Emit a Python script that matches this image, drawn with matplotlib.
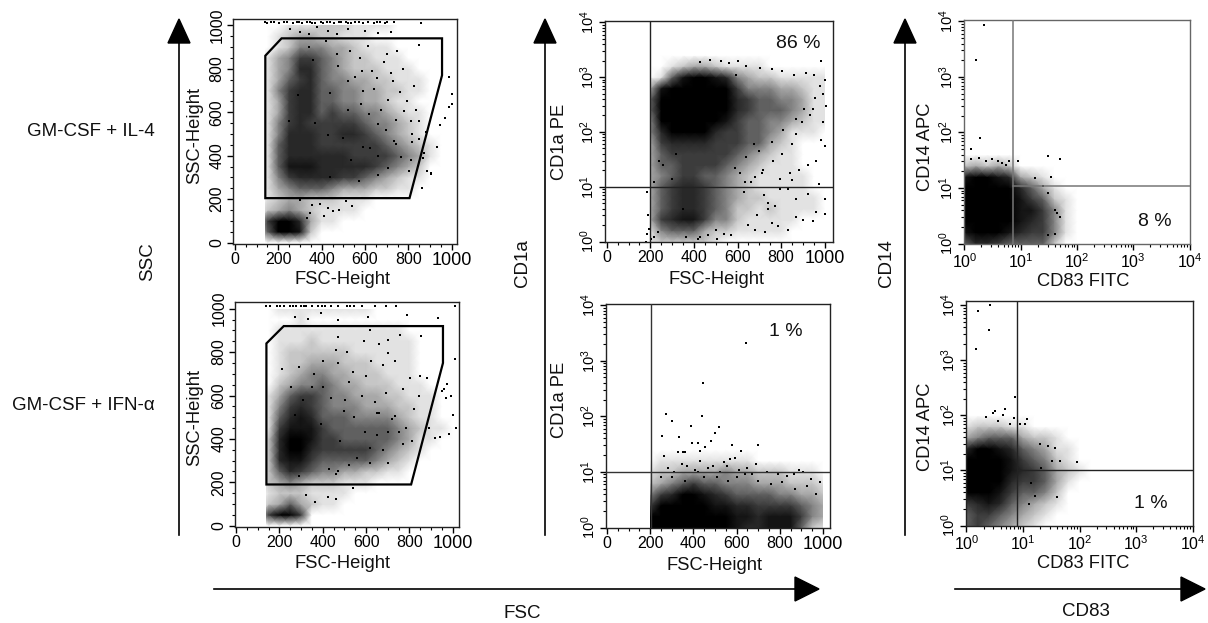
import numpy as np
import matplotlib
matplotlib.use("Agg")
import matplotlib.pyplot as plt
from matplotlib.colors import LinearSegmentedColormap
from matplotlib.patches import Polygon, Rectangle

plt.rcParams['font.family'] = ['Liberation Sans', 'DejaVu Sans']
plt.rcParams['mathtext.fontset'] = 'custom'
plt.rcParams['mathtext.rm'] = 'Liberation Sans'

W, H = 1208, 623

# density read by eye, 0 (empty) to 9 (solid black), rows listed from the bottom up
fsc_nodes = [0, 50, 100, 150, 200, 250, 300, 350, 400, 450, 500, 550, 600, 650, 700, 750, 800, 850, 900, 950, 1000]
lin_nodes = fsc_nodes
log_nodes = [0, .2, .4, .6, .8, 1, 1.2, 1.4, 1.6, 1.8, 2, 2.2, 2.4, 2.6, 2.8, 3, 3.2, 3.4, 3.6, 3.8, 4]

il4_scatter = ["0", "000599820", "000699731100", "000234321111", "000123322211100",
               "000134555433322110", "000146777766543211", "000158887777765432",
               "000157777776666543100", "000157776666665432100", "000147776677654321",
               "000146766666544321", "000136775655443211", "000136775544332110",
               "000146775544332211", "000135675443322111", "000134775432221110",
               "000134665432211100", "000012444332111", "000012332211100", "000001112221111000"]
ifn_scatter = ["0", "000699600", "000235321100", "000122211110", "000234322211100",
               "000257654433221100", "000278865555543210", "000279976666654321",
               "000279986655555431100", "000168886555555432110", "000157875554444321100",
               "000146765444333221100", "000135665443332211100", "000023445433222111",
               "000012344332221110", "000012233322211110", "000012222221111110",
               "000011121111111110", "000011111111111100", "0000001", "0000111111111"]
il4_cd1a = ["000012222210", "000014555322111110", "000036788644211111",
            "000035677654221211110", "000035677654322111110", "000035677654321111100",
            "000034566554321111100", "000035566665432111", "000035666666543211",
            "000036777766655321", "000047999976655431110", "000049999998655443211",
            "000059999999765554311", "000059999999765544311", "000038999999644433211",
            "000001589987432211111", "000000123321111"]
ifn_cd1a = ["000799999999877888521", "000699999999887888643", "000269999988776666543",
            "000146799876555544332", "000023456554443332221", "000012233334332221110",
            "000001111111110"]
il4_cd83 = ["577655552", "899987664100", "999998764100", "999998864100", "999998652100",
            "999997531", "899873210", "23232"]
ifn_cd83 = ["565432100", "566543210", "678754321", "999865542", "999976653100",
            "999987653210", "999986542100", "799875431100", "345553221", "12221100"]

# single events that stand apart from the clouds
il4_x = [140, 150, 165, 180, 205, 225, 240, 270, 285, 295, 310, 330, 345, 355, 370, 395, 405, 425, 440, 455, 480, 490,
         510, 520, 535, 555, 570, 590, 615, 640, 655, 670, 690, 700, 735, 860,
         255, 300, 340, 380, 430, 470, 520, 600, 660, 720, 850, 985, 1000, 1003, 985, 968, 947, 930, 905, 885, 862, 872,
         745, 688, 632, 762, 795, 834, 703, 812, 612, 575, 718, 655, 828, 778, 742, 585, 530, 672, 850, 818, 742, 695, 868, 905,
         640, 705, 592, 552, 777, 728, 815, 660, 625, 765, 705, 810, 850, 880, 660, 572, 732, 802,
         470, 520, 475, 420, 580, 620, 520, 370, 500, 430, 360, 440, 590, 290, 340, 250, 440, 535, 660,
         355, 430, 482, 510, 585, 300, 345, 390, 450, 540, 330, 410]
il4_y = [1015, 1012, 1015, 1015, 1012, 1015, 1015, 1012, 1015, 1015, 1012, 1015, 1015, 1012, 1012, 1015, 1012, 1015, 1015, 1012, 1015, 1015,
         1015, 1012, 1012, 1015, 1015, 1012, 1015, 1012, 1015, 1015, 1012, 1015, 1015, 1012,
         985, 970, 960, 990, 975, 960, 985, 975, 965, 970, 910, 760, 682, 640, 622, 572, 540, 440, 322, 332, 250, 412,
         882, 832, 790, 692, 652, 612, 870, 560, 905, 848, 782, 758, 722, 608, 566, 790, 880, 610, 475, 500, 455, 520, 390, 315,
         705, 655, 700, 760, 800, 742, 462, 545, 435, 395, 345, 380, 560, 510, 310, 285, 470, 330,
         870, 745, 815, 930, 640, 590, 610, 550, 480, 495, 840, 690, 440, 680, 900, 560, 300, 380, 400,
         172, 160, 152, 192, 205, 195, 135, 180, 145, 170, 115, 125]
ifn_x = [140, 155, 190, 205, 220, 250, 262, 275, 300, 312, 325, 350, 380, 395, 410, 440, 470, 510, 525, 545, 580, 640, 690, 740, 1010,
         270, 330, 390, 470, 610, 790, 930, 852, 758, 702, 662, 592, 512, 462, 402, 622, 680, 850, 882,
         975, 990, 1010, 960, 950, 970, 1000, 1015, 985, 942, 917, 890, 422, 462, 542, 362, 322, 210, 290, 255, 620, 470, 700,
         540, 600, 735, 770, 805, 690, 640, 820, 735, 650, 580, 505, 400, 470, 520, 845, 880, 785, 720, 595, 545, 770, 700, 660, 700,
         360, 440, 500, 310, 270, 350, 480, 390, 560, 620, 680, 520, 650, 290, 430, 460, 750, 810, 620, 470]
ifn_y = [1012, 1014, 1012, 1014, 1012, 1012, 1014, 1012, 1012, 1014, 1012, 1012, 1012, 1014, 1012, 1012, 1012, 1012, 1014, 1012, 1012, 1012, 1012, 1012, 1012,
         960, 952, 980, 948, 962, 970, 958, 872, 880, 858, 838, 850, 800, 812, 760, 758, 742, 692, 680,
         652, 600, 770, 630, 620, 590, 512, 452, 422, 408, 402, 448, 130, 122, 172, 110, 142, 720, 730, 640, 900, 870, 795,
         710, 690, 760, 630, 680, 610, 570, 540, 505, 520, 600, 580, 640, 750, 660, 600, 470, 450, 490, 430, 500, 375, 430, 520, 290,
         700, 590, 530, 580, 510, 640, 390, 470, 310, 360, 350, 280, 420, 230, 260, 240, 430, 390, 290, 250]
il4_cd1a_x = [180, 185, 195, 190, 185, 240, 215, 600, 638, 702, 757, 805, 860, 912, 950, 985, 1000, 978, 993, 1005, 945, 932, 898,
              868, 852, 803, 765, 718, 682, 636, 592, 560, 523, 472, 428, 985, 958, 922, 882, 843, 797, 742, 690, 1000, 962, 902,
              205, 215, 235, 260, 320, 365, 420, 465, 505, 540, 680, 650, 760, 725, 785, 830, 870, 945, 1000, 630, 610, 700, 760, 810,
              870, 905, 955, 990, 720, 660, 740, 795, 850, 925, 975, 1000, 300, 350, 430, 500, 570, 590, 640, 675, 710, 830, 870, 770]
il4_cd1a_y = [1, 1.4, 1.7, 3, 8, 30, 12, 2000, 1600, 1500, 1400, 1300, 1100, 1200, 1100, 2000, 900, 700, 500, 300, 260, 200, 150,
              90, 60, 40, 30, 20, 15, 12, 1100, 1800, 2000, 2100, 1900, 70, 30, 25, 20, 18, 14, 4, 3, 6, 3.5, 2.5,
              1.1, 1.2, 1.5, 25, 40, 1.2, 1.1, 1.3, 1.1, 1.4, 1.6, 2.0, 2.2, 1.5, 1.9, 1.6, 2.8, 2.4, 3.2, 8, 18, 45, 65, 110,
              170, 260, 420, 150, 7, 12, 5, 9, 13, 7.5, 11, 55, 14, 4, 1.2, 1.6, 1.3, 22, 35, 60, 18, 9, 6, 4.5]
ifn_cd1a_x = [645, 445, 275, 440, 300, 255, 390, 520, 500, 335, 480, 395, 420, 455, 700, 580, 265, 620, 570, 430, 330, 350, 360, 590, 540, 690, 890,
              280, 310, 345, 372, 405, 430, 465, 492, 522, 555, 612, 648, 672, 742, 792, 832, 865, 905, 945, 985, 250, 300, 360, 420, 450,
              510, 560, 600, 640, 700, 760, 810, 870, 925, 965]
ifn_cd1a_y = [2100, 390, 110, 100, 82, 45, 66, 65, 50, 42, 36, 33, 33, 28, 30, 30, 19, 24, 17, 24, 23, 23, 23, 18, 15, 14, 11,
              12, 10, 14, 13, 11, 16, 12, 13, 10, 13, 11, 12, 9, 10, 9, 8.5, 9, 10, 7.5, 6.5, 8, 8, 7, 10, 8,
              8, 7, 8, 9, 7, 6, 6.5, 5, 5.5, 4]
il4_cd83_x = [2.2, 1.6, 1.85, 1.3, 31, 50, 35, 9, 18, 25, 31, 40, 45, 50, 30, 40, 1.3, 1.8, 2.4, 3.1, 3.9, 4.6, 5.5, 6.2]
il4_cd83_y = [8500, 2000, 80, 50, 37, 33, 16, 30, 15, 11, 8, 4, 3.5, 3, 1.4, 1.5, 33, 34, 30, 33, 31, 28, 26, 30]
ifn_cd83_x = [2.6, 1.6, 2.5, 1.5, 7.3, 4.8, 3.2, 12, 9, 20, 37, 28, 45, 90, 40, 33, 21, 14, 16, 13, 11, 2.2, 3, 3.6, 4.5, 6, 7]
ifn_cd83_y = [10000, 8000, 3500, 1600, 220, 130, 120, 85, 70, 30, 26, 28, 15, 14, 3.3, 15, 11, 6, 3.5, 2.5, 70, 95, 110, 80, 100, 70, 90]

greys = LinearSegmentedColormap.from_list("stip", ["#ffffff", "#a8a8a8", "#3c3c3c", "#000000"])


def grid(rows):
    out = np.zeros((21, 21))
    for i, r in enumerate(rows):
        out[i] = [int(c) for c in r.ljust(21, "0")]
    return out


def px_axes(left, right, top, bottom):
    return fig.add_axes([left / W, 1 - bottom / H, (right - left) / W, (bottom - top) / H])


def px_text(x, y, s, **kw):
    kw.setdefault("ha", "center")
    kw.setdefault("va", "center")
    fig.text(x / W, 1 - y / H, s, color="#111111", **kw)


def style(ax, lw=1.0):
    for side, sp in ax.spines.items():
        sp.set_linewidth(lw)
        sp.set_color("#222222")
    ax.tick_params(which="major", length=4, width=1, pad=2, top=False, right=False)
    ax.tick_params(which="minor", length=2, width=0.8, top=False, right=False)
    for t in ax.get_yticklabels():
        t.set_rotation(90)
        t.set_va("center")


def linear_ticks(ax, which="both"):
    ticks = [0, 200, 400, 600, 800, 1000]
    ax.set_xticks(ticks)
    ax.set_xticks(np.arange(0, 1001, 50), minor=True)
    ax.set_xticklabels(["0", "200", "400", "600", "800", "1000"], fontsize=11.5)
    ax.get_xticklabels()[-1].set_fontsize(13)
    if which == "both":
        ax.set_yticks(ticks)
        ax.set_yticks(np.arange(0, 1001, 50), minor=True)
        ax.set_yticklabels(["0", "200", "400", "600", "800", "1000"], fontsize=11.5)


def log_ticks(ax, axis):
    major = [1, 10, 100, 1000, 10000]
    labels = [r"$\mathregular{10^{%d}}$" % i for i in range(5)]
    minor = [m * d for d in major[:-1] for m in range(2, 10)]
    if axis == "x":
        ax.set_xticks(major)
        ax.set_xticklabels(labels, fontsize=11.5)
        ax.set_xticks(minor, minor=True)
        ax.set_xticklabels([], minor=True)
    else:
        ax.set_yticks(major)
        ax.set_yticklabels(labels, fontsize=10.5)
        ax.set_yticks(minor, minor=True)
        ax.set_yticklabels([], minor=True)


def cloud(ax, xs, ys, rows, clip=None):
    X, Y = np.meshgrid(xs, ys)
    mesh = ax.pcolormesh(X, Y, grid(rows), cmap=greys, vmin=0, vmax=9, shading="gouraud", zorder=1, rasterized=True)
    if clip is not None:
        mesh.set_clip_path(Rectangle((clip[0], clip[1]), clip[2] - clip[0], clip[3] - clip[1], transform=ax.transData))


def dots(ax, x, y):
    ax.scatter(x, y, s=2.2, c="black", marker="s", linewidths=0, zorder=2)


fig = plt.figure(figsize=(W / 100, H / 100), dpi=100)

# left column, gated scatter
ax1 = px_axes(233, 457, 19, 244)
cloud(ax1, fsc_nodes, lin_nodes, il4_scatter, clip=(140, 0, 1000, 1000))
dots(ax1, il4_x, il4_y)
ax1.add_patch(Polygon([(140, 205), (140, 860), (215, 940), (955, 940), (955, 770), (805, 205)],
                      closed=True, fill=False, ec="black", lw=1.6, zorder=3))
ax1.set_xlim(-9, 1024)
ax1.set_ylim(-6, 1029)
linear_ticks(ax1)
style(ax1)

ax2 = px_axes(235, 459, 302, 527)
cloud(ax2, fsc_nodes, lin_nodes, ifn_scatter, clip=(140, 0, 1000, 1000))
dots(ax2, ifn_x, ifn_y)
ax2.add_patch(Polygon([(140, 190), (140, 840), (220, 920), (955, 920), (955, 750), (808, 190)],
                      closed=True, fill=False, ec="black", lw=1.6, zorder=3))
ax2.set_xlim(-5, 1029)
ax2.set_ylim(-6, 1031)
linear_ticks(ax2)
style(ax2)

# middle column, CD1a
log_y = [10 ** v for v in log_nodes]
ax3 = px_axes(605, 833, 21, 242)
cloud(ax3, fsc_nodes, log_y, il4_cd1a, clip=(200, 1, 1000, 10000))
dots(ax3, il4_cd1a_x, il4_cd1a_y)
ax3.axvline(200, color="#222222", lw=1, zorder=3)
ax3.axhline(9.8, color="#222222", lw=1, zorder=3)
ax3.set_yscale("log")
ax3.set_xlim(-8, 1038)
ax3.set_ylim(0.98, 10600)
linear_ticks(ax3, "x")
log_ticks(ax3, "y")
style(ax3)

ax4 = px_axes(606, 830, 304, 528)
cloud(ax4, fsc_nodes, log_y, ifn_cd1a, clip=(200, 1, 1000, 10000))
dots(ax4, ifn_cd1a_x, ifn_cd1a_y)
ax4.axvline(205, color="#333333", lw=1, zorder=3)
ax4.axhline(9.8, color="#333333", lw=1, zorder=3)
ax4.set_yscale("log")
ax4.set_xlim(-5, 1032)
ax4.set_ylim(0.98, 10500)
linear_ticks(ax4, "x")
log_ticks(ax4, "y")
style(ax4)

# right column, CD14 against CD83
log_x = log_y
ax5 = px_axes(964, 1190, 20, 244)
cloud(ax5, log_x, log_y, il4_cd83)
dots(ax5, il4_cd83_x, il4_cd83_y)
ax5.axvline(7.4, color="#777777", lw=1.1, zorder=3)
ax5.plot([7.4, 10000], [11, 11], color="#777777", lw=1.1, zorder=3)
ax5.set_xscale("log")
ax5.set_yscale("log")
ax5.set_xlim(0.98, 10200)
ax5.set_ylim(0.98, 10600)
log_ticks(ax5, "x")
log_ticks(ax5, "y")
style(ax5)
for sp in ax5.spines.values():
    sp.set_color("#666666")

ax6 = px_axes(966, 1193, 301, 526)
cloud(ax6, log_x, log_y, ifn_cd83)
dots(ax6, ifn_cd83_x, ifn_cd83_y)
ax6.axvline(7.8, color="#222222", lw=1, zorder=3)
ax6.plot([7.8, 10000], [10, 10], color="#222222", lw=1, zorder=3)
ax6.set_xscale("log")
ax6.set_yscale("log")
ax6.set_xlim(0.98, 10200)
ax6.set_ylim(0.98, 12000)
log_ticks(ax6, "x")
log_ticks(ax6, "y")
style(ax6)

# axis labels written at their place on the page
label_size = 13.2
for x, y, s in [(342, 279, "FSC-Height"), (342, 564, "FSC-Height"), (717, 280, "FSC-Height"),
                (714, 565, "FSC-Height"), (1083, 282, "CD83 FITC"), (1083, 564, "CD83 FITC")]:
    px_text(x, y, s, fontsize=label_size)
for x, y, s in [(195, 135, "SSC-Height"), (195, 418, "SSC-Height"), (559, 142, "CD1a PE"),
                (559, 400, "CD1a PE"), (925, 147, "CD14 APC"), (925, 427, "CD14 APC")]:
    px_text(x, y, s, fontsize=label_size, rotation=90)

px_text(798, 43, "86 %", fontsize=14)
px_text(786, 331, "1 %", fontsize=14)
px_text(1155, 222, "8 %", fontsize=14)
px_text(1151, 503, "1 %", fontsize=14)

px_text(91, 132, "GM-CSF + IL-4", fontsize=13.5)
px_text(83, 406, "GM-CSF + IFN-α", fontsize=13.5)
px_text(148, 262, "SSC", fontsize=13.5, rotation=90)
px_text(523, 263, "CD1a", fontsize=13.5, rotation=90)
px_text(886, 263, "CD14", fontsize=13.5, rotation=90)
px_text(522, 614, "FSC", fontsize=13.5)
px_text(1086, 612, "CD83", fontsize=13.5)

# big arrows
over = fig.add_axes([0, 0, 1, 1], zorder=-1)
over.set_xlim(0, W)
over.set_ylim(H, 0)
over.axis("off")
for x in [179, 545, 905]:
    over.plot([x, x], [535, 30], color="black", lw=1.2)
    over.add_patch(Polygon([(x - 11, 43), (x + 11, 43), (x, 19)], color="black"))
for x0, x1 in [(214, 795), (955, 1181)]:
    over.plot([x0, x1], [589, 589], color="black", lw=1.2)
    over.add_patch(Polygon([(x1, 577), (x1, 601), (x1 + 24, 589)], color="black"))

fig.savefig("out.png", dpi=100)
